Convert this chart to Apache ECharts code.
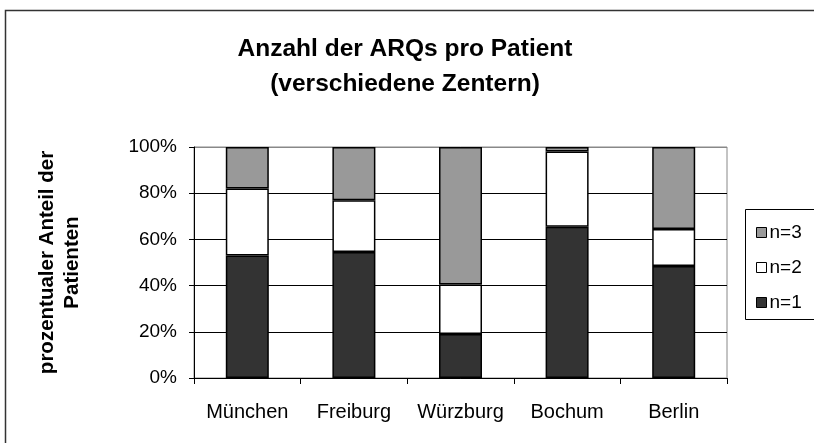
<!DOCTYPE html>
<html>
<head>
<meta charset="utf-8">
<title>Anzahl der ARQs pro Patient</title>
<script src="https://cdn.jsdelivr.net/npm/echarts@6/dist/echarts.min.js"></script>
<style>
  html, body { margin: 0; padding: 0; background: #fff; }
  #chart { width: 814px; height: 443px; }
</style>
</head>
<body>
<div id="chart"></div>
<script>
// ---- Daten (Prozent der Patienten je Zentrum) ----
var centres = ["München", "Freiburg", "Würzburg", "Bochum", "Berlin"];
var n1Share = [53, 54.5, 19, 65.5, 48.5];
var n2Share = [29, 22.5, 21.5, 32.5, 16];
var n3Share = [18, 23, 59.5, 2, 35.5];
var yTicks  = [0, 20, 40, 60, 80, 100];

var FONT = "'Liberation Sans', Arial, sans-serif";

var chart = echarts.init(document.getElementById("chart"), null, { renderer: "canvas" });

function barSeries(name, data, color) {
  return {
    name: name,
    type: "bar",
    stack: "total",
    barWidth: 43,
    data: data,
    itemStyle: { color: color, borderColor: "#000", borderWidth: 1.5 },
    emphasis: { disabled: true }
  };
}

chart.setOption({
  animation: false,
  textStyle: { fontFamily: FONT },
  title: {
    text: "Anzahl der ARQs pro Patient\n(verschiedene Zentern)",
    left: 400,
    textAlign: "center",
    top: 27,
    textStyle: { fontFamily: FONT, fontSize: 24.5, fontWeight: "bold", color: "#000", lineHeight: 35 }
  },
  legend: {
    orient: "vertical",
    left: 751,
    top: 218,
    itemWidth: 10,
    itemHeight: 10,
    itemGap: 16,
    icon: "rect",
    data: ["n=3", "n=2", "n=1"],
    textStyle: { fontFamily: FONT, fontSize: 19, color: "#000", padding: [0, 0, 0, -2] },
    itemStyle: { borderColor: "#000", borderWidth: 1 },
    selectedMode: false
  },
  grid: {
    left: 194, right: 87, top: 147, bottom: 65,
    show: true, borderColor: "#888", borderWidth: 1, backgroundColor: "transparent"
  },
  xAxis: {
    type: "category",
    data: centres,
    axisLine: { lineStyle: { color: "#000", width: 1 } },
    axisTick: { show: true, length: 6, lineStyle: { color: "#000" } },
    axisLabel: { fontFamily: FONT, fontSize: 20, color: "#000", margin: 24, interval: 0 }
  },
  yAxis: {
    type: "value",
    min: yTicks[0],
    max: yTicks[yTicks.length - 1],
    interval: 20,
    name: "prozentualer Anteil der\nPatienten",
    nameLocation: "middle",
    nameRotate: 90,
    nameGap: 109,
    nameTextStyle: { fontFamily: FONT, fontSize: 20.5, fontWeight: "bold", color: "#000", lineHeight: 25 },
    axisLine: { show: true, lineStyle: { color: "#000", width: 1 } },
    axisTick: { show: true, length: 5, lineStyle: { color: "#000" } },
    axisLabel: { fontFamily: FONT, fontSize: 19, color: "#000", margin: 17, formatter: "{value}%" },
    splitLine: { show: true, lineStyle: { color: ["#000", "#000", "#000", "#000", "#000", "#888"], width: 1 } }
  },
  graphic: [
    {
      type: "rect",
      shape: { x: 5.5, y: 10.5, width: 830, height: 460 },
      style: { fill: "none", stroke: "#333", lineWidth: 1.5 },
      silent: true
    },
    {
      type: "rect",
      shape: { x: 745.5, y: 209.5, width: 80, height: 110 },
      style: { fill: "#fff", stroke: "#000", lineWidth: 1 },
      z: -1,
      silent: true
    }
  ],
  series: [
    barSeries("n=1", n1Share, "#333333"),
    barSeries("n=2", n2Share, "#ffffff"),
    barSeries("n=3", n3Share, "#999999")
  ]
});
</script>
</body>
</html>
